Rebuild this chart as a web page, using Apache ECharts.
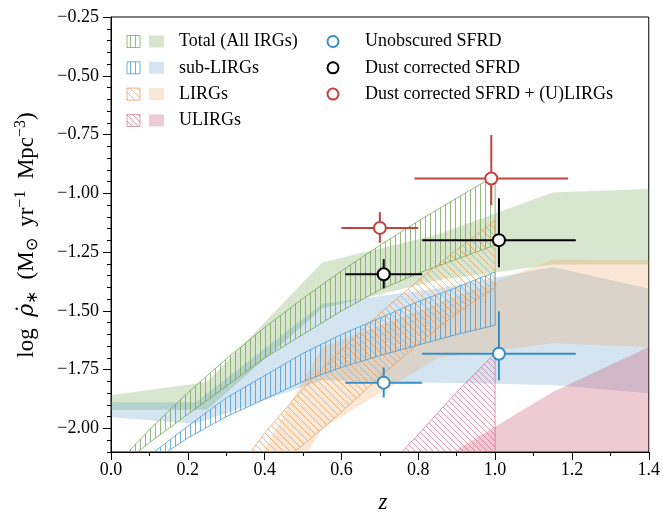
<!DOCTYPE html>
<html><head><meta charset="utf-8">
<script src="https://cdn.jsdelivr.net/npm/echarts@6/dist/echarts.min.js"></script>
<style>html,body{margin:0;padding:0;background:#fff}#c{width:663px;height:514px}</style>
</head><body><div id="c"></div>
<script>
// ---------- data ----------
const hatchX = [0.0, 0.1, 0.2, 0.3, 0.4, 0.5, 0.6, 0.7, 0.8, 0.9, 1.0];
const totalHatchLow  = [-2.19, -2.06, -1.94, -1.82, -1.70, -1.60, -1.50, -1.41, -1.34, -1.28, -1.22];
const totalHatchHigh = [-2.177, -2.005, -1.848, -1.704, -1.571, -1.446, -1.330, -1.221, -1.118, -1.020, -0.925];
const subHatchLow  = [-2.30, -2.15, -2.04, -1.95, -1.875, -1.80, -1.74, -1.69, -1.645, -1.60, -1.561];
const subHatchHigh = [-2.25, -2.115, -1.99, -1.87, -1.775, -1.68, -1.60, -1.53, -1.46, -1.40, -1.334];
const lirgHatchX = [0.3, 0.4, 0.5, 0.6, 0.7, 0.8, 0.9, 1.0];
const lirgHatchLow  = [-2.40, -2.20, -2.07, -1.93, -1.78, -1.64, -1.51, -1.40];
const lirgHatchHigh = [-2.24, -2.02, -1.83, -1.665, -1.51, -1.37, -1.24, -1.114];
const ulirgHatchX = [0.7, 0.8, 0.9, 1.0];
const ulirgHatchLow  = [-2.6, -2.5, -2.4, -2.3];
const ulirgHatchHigh = [-2.20, -2.025, -1.845, -1.68];

const totalBandX = [0, 0.25, 0.55, 0.85, 1.15, 1.4];
const totalBandLow  = [-1.920, -1.920, -1.49, -1.37, -1.303, -1.303];
const totalBandHigh = [-1.859, -1.802, -1.294, -1.175, -0.996, -0.982];
const subBandX = [0, 0.22, 0.55, 0.85, 1.15, 1.4];
const subBandLow  = [-1.952, -1.98, -1.795, -1.805, -1.815, -1.85];
const subBandHigh = [-1.888, -1.89, -1.47, -1.405, -1.313, -1.405];
const lirgBandX = [0.25, 0.55, 0.85, 1.15, 1.4];
const lirgBandLow  = [-2.8, -2.0, -1.70, -1.637, -1.655];
const lirgBandHigh = [-2.52, -1.653, -1.47, -1.282, -1.284];
const ulirgBandX = [0.55, 0.85, 1.15, 1.4];
const ulirgBandLow  = [-3.0, -2.6, -2.3, -2.095];
const ulirgBandHigh = [-2.44, -2.14, -1.845, -1.653];

const unobsZ = [0.71, 1.01], unobsY = [-1.805, -1.682];
const unobsZlo = [0.61, 0.81], unobsZhi = [0.81, 1.21];
const unobsYlo = [-1.868, -1.795], unobsYhi = [-1.74, -1.502];
const dustZ = [0.71, 1.01], dustY = [-1.344, -1.199];
const dustZlo = [0.61, 0.81], dustZhi = [0.81, 1.21];
const dustYlo = [-1.404, -1.314], dustYhi = [-1.28, -1.021];
const ulZ = [0.70, 0.99], ulY = [-1.147, -0.937];
const ulZlo = [0.60, 0.79], ulZhi = [0.80, 1.19];
const ulYlo = [-1.21, -1.05], ulYhi = [-1.08, -0.752];

const yMajorTicks = [-2.0, -1.75, -1.5, -1.25, -1.0, -0.75, -0.5, -0.25];
const yMinorTicks = [-2.1, -2.05, -1.95, -1.9, -1.85, -1.8, -1.7, -1.65, -1.6, -1.55, -1.45, -1.4, -1.35, -1.3,
  -1.2, -1.15, -1.1, -1.05, -0.95, -0.9, -0.85, -0.8, -0.7, -0.65, -0.6, -0.55, -0.45, -0.4, -0.35, -0.3];

const legendLeft = ['Total (All IRGs)', 'sub-LIRGs', 'LIRGs', 'ULIRGs'];
const legendRight = ['Unobscured SFRD', 'Dust corrected SFRD', 'Dust corrected SFRD + (U)LIRGs'];

// ---------- styles ----------
const FONT = 'Liberation Serif';
const COL = {
  green: {fill: 'rgba(106,158,69,0.26)', line: 'rgba(110,160,75,0.72)'},
  blue: {fill: 'rgba(60,137,191,0.22)', line: 'rgba(66,150,208,0.75)'},
  orange: {fill: 'rgba(238,154,78,0.24)', line: 'rgba(232,150,80,0.68)'},
  pink: {fill: 'rgba(200,80,110,0.30)', line: 'rgba(208,105,135,0.68)'}
};
const MK = {blue: '#3a8cc4', black: '#000000', red: '#c0443f'};

function makePattern(color, kind, s) {
  const c = document.createElement('canvas');
  c.width = s; c.height = s;
  const g = c.getContext('2d');
  g.strokeStyle = color; g.lineWidth = 1;
  g.beginPath();
  if (kind === 'v') {
    g.moveTo(0.5, 0); g.lineTo(0.5, s);
  } else {
    for (const k of [-s, 0, s]) { g.moveTo(k, 0); g.lineTo(k + s, s); }
  }
  g.stroke();
  return {image: c, repeat: 'repeat'};
}
const PAT = {
  green: makePattern(COL.green.line, 'v', 5),
  blue: makePattern(COL.blue.line, 'v', 5),
  orange: makePattern(COL.orange.line, 'd', 7),
  pink: makePattern(COL.pink.line, 'd', 6)
};

function bandSeries(xs, lo, hi, style, z) {
  return {
    type: 'custom', clip: true, z: z, silent: true,
    data: xs.map((x, i) => [x, lo[i], hi[i]]),
    encode: {x: 0, y: [1, 2]},
    renderItem: function (params, api) {
      if (params.dataIndex !== 0) return null;
      const pts = [];
      for (let i = 0; i < xs.length; i++) pts.push(api.coord([xs[i], hi[i]]));
      for (let i = xs.length - 1; i >= 0; i--) pts.push(api.coord([xs[i], lo[i]]));
      return {type: 'polygon', shape: {points: pts}, style: style};
    }
  };
}
function errSeries(zs, ys, zlo, zhi, ylo, yhi, color) {
  return {
    type: 'custom', clip: true, z: 5, silent: true,
    data: zs.map((z, i) => [z, ys[i], zlo[i], zhi[i], ylo[i], yhi[i]]),
    encode: {x: 0, y: 1},
    renderItem: function (params, api) {
      const a = api.coord([api.value(2), api.value(1)]);
      const b = api.coord([api.value(3), api.value(1)]);
      const c = api.coord([api.value(0), api.value(4)]);
      const d = api.coord([api.value(0), api.value(5)]);
      const st = {stroke: color, lineWidth: 2};
      return {type: 'group', children: [
        {type: 'line', shape: {x1: a[0], y1: a[1], x2: b[0], y2: b[1]}, style: st},
        {type: 'line', shape: {x1: c[0], y1: c[1], x2: d[0], y2: d[1]}, style: st}
      ]};
    }
  };
}
function markerSeries(zs, ys, color) {
  return {
    type: 'scatter', z: 6, silent: true, symbol: 'circle', symbolSize: 12,
    data: zs.map((z, i) => [z, ys[i]]),
    itemStyle: {color: '#ffffff', borderColor: color, borderWidth: 2, opacity: 1}
  };
}

const chart = echarts.init(document.getElementById('c'), null, {renderer: 'canvas'});

// legend graphics
const legendColors = ['green', 'blue', 'orange', 'pink'];
const rowY = [41.5, 67.8, 94.1, 120.4];
const graphics = [];
legendLeft.forEach((t, i) => {
  const k = legendColors[i];
  graphics.push({type: 'rect', shape: {x: 127, y: rowY[i] - 6, width: 13, height: 12},
    style: {fill: PAT[k], stroke: COL[k].line, lineWidth: 1}, z: 100});
  graphics.push({type: 'rect', shape: {x: 149, y: rowY[i] - 6, width: 15, height: 12},
    style: {fill: COL[k].fill, stroke: null}, z: 100});
  graphics.push({type: 'text', x: 179, y: rowY[i], z: 100,
    style: {text: t, fill: '#000', font: '18px "' + FONT + '"', textAlign: 'left', textVerticalAlign: 'middle', align: 'left', verticalAlign: 'middle'}});
});
const mkCols = [MK.blue, MK.black, MK.red];
legendRight.forEach((t, i) => {
  graphics.push({type: 'circle', shape: {cx: 333, cy: rowY[i], r: 5.5},
    style: {fill: '#fff', stroke: mkCols[i], lineWidth: 2}, z: 100});
  graphics.push({type: 'text', x: 365, y: rowY[i], z: 100,
    style: {text: t, fill: '#000', font: '18px "' + FONT + '"', textAlign: 'left', textVerticalAlign: 'middle', align: 'left', verticalAlign: 'middle'}});
});
// axis titles
graphics.push({type: 'text', x: 27, y: 235, rotation: Math.PI / 2, z: 100,
  style: {
    text: 'log  {i|ρ̇}{sub|∗}  (M{sub|⊙}  yr{sup|−1}  Mpc{sup|−3})',
    fill: '#000', font: '23px "' + FONT + '"', fontSize: 23, fontFamily: FONT,
    textAlign: 'center', textVerticalAlign: 'middle', align: 'center', verticalAlign: 'middle',
    rich: {
      i: {fontStyle: 'italic', fontSize: 22, fontFamily: 'DejaVu Serif', lineHeight: 28},
      sub: {fontSize: 16, fontFamily: FONT, verticalAlign: 'bottom', lineHeight: 28},
      sup: {fontSize: 16, fontFamily: FONT, verticalAlign: 'top', lineHeight: 28}
    }
  }});
graphics.push({type: 'text', x: 383, y: 503, z: 100,
  style: {text: 'z', fill: '#000', font: 'italic 23px "' + FONT + '"', textAlign: 'center', textVerticalAlign: 'middle', align: 'center', verticalAlign: 'middle'}});

const option = {
  backgroundColor: '#ffffff',
  animation: false,
  grid: {left: 111, right: 11, top: 17, bottom: 62, show: true, borderColor: '#000', borderWidth: 1, backgroundColor: 'transparent'},
  xAxis: {
    type: 'value', min: 0, max: 1.4, interval: 0.2,
    axisLine: {show: true, onZero: false, lineStyle: {color: '#000', width: 1}},
    axisTick: {show: true, length: 8, lineStyle: {color: '#000', width: 1}},
    minorTick: {show: true, splitNumber: 2, length: 4, lineStyle: {color: '#000', width: 1}},
    splitLine: {show: false}, minorSplitLine: {show: false},
    axisLabel: {color: '#000', fontFamily: FONT, fontSize: 18, margin: 9, formatter: v => v.toFixed(1)}
  },
  yAxis: [{
    type: 'value', min: -2.1, max: -0.25,
    axisLine: {show: true, onZero: false, lineStyle: {color: '#000', width: 1}},
    axisTick: {show: true, length: 8, customValues: yMajorTicks, lineStyle: {color: '#000', width: 1}},
    splitLine: {show: false},
    axisLabel: {color: '#000', fontFamily: FONT, fontSize: 18, margin: 12, customValues: yMajorTicks,
      formatter: v => (v < 0 ? '−' : '') + Math.abs(v).toFixed(2)}
  }, {
    type: 'value', min: -2.1, max: -0.25, position: 'left',
    axisLine: {show: false},
    axisTick: {show: true, length: 4, customValues: yMinorTicks, lineStyle: {color: '#000', width: 1}},
    axisLabel: {show: false}, splitLine: {show: false}
  }],
  graphic: graphics,
  series: [
    bandSeries(totalBandX, totalBandLow, totalBandHigh, {fill: COL.green.fill}, 1),
    bandSeries(subBandX, subBandLow, subBandHigh, {fill: COL.blue.fill}, 1),
    bandSeries(lirgBandX, lirgBandLow, lirgBandHigh, {fill: COL.orange.fill}, 1),
    bandSeries(ulirgBandX, ulirgBandLow, ulirgBandHigh, {fill: COL.pink.fill}, 1),
    bandSeries(hatchX, totalHatchLow, totalHatchHigh, {fill: PAT.green, stroke: COL.green.line, lineWidth: 1}, 2),
    bandSeries(hatchX, subHatchLow, subHatchHigh, {fill: PAT.blue, stroke: COL.blue.line, lineWidth: 1}, 2),
    bandSeries(lirgHatchX, lirgHatchLow, lirgHatchHigh, {fill: PAT.orange, stroke: COL.orange.line, lineWidth: 1}, 2),
    bandSeries(ulirgHatchX, ulirgHatchLow, ulirgHatchHigh, {fill: PAT.pink, stroke: COL.pink.line, lineWidth: 1}, 2),
    errSeries(unobsZ, unobsY, unobsZlo, unobsZhi, unobsYlo, unobsYhi, MK.blue),
    errSeries(dustZ, dustY, dustZlo, dustZhi, dustYlo, dustYhi, MK.black),
    errSeries(ulZ, ulY, ulZlo, ulZhi, ulYlo, ulYhi, MK.red),
    markerSeries(unobsZ, unobsY, MK.blue),
    markerSeries(dustZ, dustY, MK.black),
    markerSeries(ulZ, ulY, MK.red)
  ]
};
chart.setOption(option);
</script>
</body></html>
